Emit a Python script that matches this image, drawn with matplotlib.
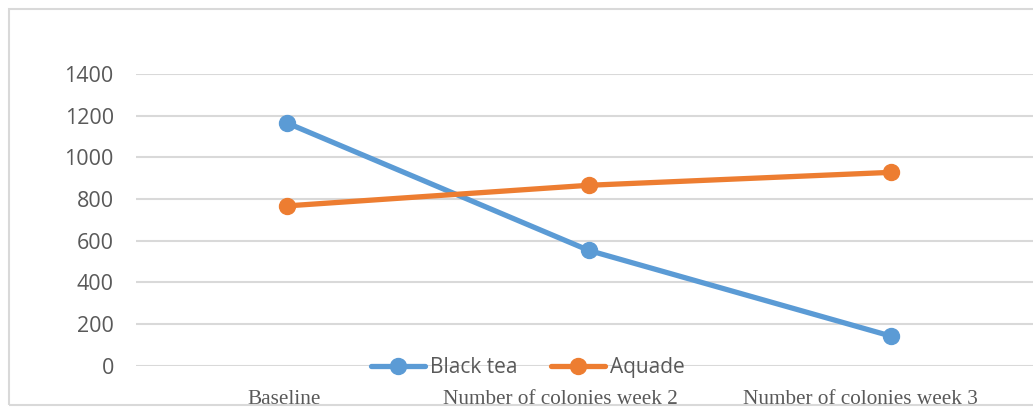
import matplotlib.pyplot as plt
from matplotlib.patches import Rectangle
from matplotlib.transforms import ScaledTranslation

categories = ["Baseline", "Number of colonies week 2", "Number of colonies week 3"]
black_tea = [1165, 553, 142]
aquade = [767, 866, 928]
yticks = [0, 200, 400, 600, 800, 1000, 1200, 1400]

W, H = 1033, 408
fig = plt.figure(figsize=(W / 100, H / 100), dpi=100)

# outer chart frame
fig.patches.append(Rectangle((9 / W, (H - 405) / H), 1.2, (405 - 9) / H,
                             transform=fig.transFigure, fill=False,
                             edgecolor="#D9D9D9", linewidth=1.5, zorder=5))

left_px, right_px = 136, 1033
bottom_px, top_px = 365.7, 74
ax = fig.add_axes([left_px / W, (H - bottom_px) / H,
                   (right_px - left_px) / W, (bottom_px - top_px) / H])

x = list(range(len(categories)))
step = 302
ax.set_xlim(-0.5, -0.5 + (right_px - left_px) / step)
ax.set_ylim(0, 1400)

ax.plot(x, black_tea, color="#5B9BD5", linewidth=3.8, marker="o",
        markersize=11.5, label="Black tea", solid_capstyle="round", zorder=3)
ax.plot(x, aquade, color="#ED7D31", linewidth=3.8, marker="o",
        markersize=11.5, label="Aquade", solid_capstyle="round", zorder=3)

ax.set_yticks(yticks)
ax.set_yticklabels([str(v) for v in yticks], fontfamily="Open Sans",
                   fontsize=15.5, color="#595959")
ax.tick_params(axis="y", length=0, pad=16)
ax.grid(axis="y", color="#D9D9D9", linewidth=1.5)
ax.set_axisbelow(True)

ax.set_xticks(x)
labels = ax.set_xticklabels(categories, fontfamily="Liberation Serif",
                            fontsize=15.3, color="#595959")
ax.tick_params(axis="x", length=0, pad=17.5)
# category labels sit slightly left of their points
shifts_px = [-3, -29, -31]
for lab, dx in zip(labels, shifts_px):
    lab.set_transform(lab.get_transform() +
                      ScaledTranslation(dx / 100, 0, fig.dpi_scale_trans))

for s in ax.spines.values():
    s.set_visible(False)

leg = ax.legend(loc="center",
                bbox_to_anchor=((528 - left_px) / (right_px - left_px), -2 / (bottom_px - top_px)),
                ncol=2, frameon=False, handlelength=2.6, columnspacing=1.6,
                handletextpad=0.25, prop={"family": "Open Sans", "size": 15})
for t in leg.get_texts():
    t.set_color("#595959")

fig.savefig("out.png", dpi=100)
